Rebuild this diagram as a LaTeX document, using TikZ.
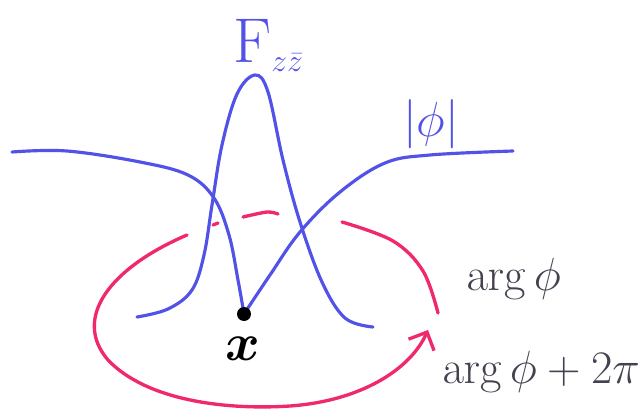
\RequirePackage{fix-cm}
\documentclass[tikz,border=0pt]{standalone}
\usepackage{amsmath, amssymb}
\usepackage{bm}
\usepackage{tikz}
\usetikzlibrary{arrows.meta,calc,positioning}
\definecolor{penblue}{RGB}{82,82,232}
\definecolor{penred}{RGB}{240,40,110}
\definecolor{pengray}{RGB}{70,64,80}

\begin{document}
\begin{tikzpicture}[x=0.02cm,y=-0.02cm,
    bluepen/.style={draw=penblue, line width=1.8pt, line cap=round, line join=round},
    redpen/.style={draw=penred, line width=1.9pt, line cap=round},
    biglabel/.style={font=\fontsize{36}{40}\selectfont},
    arglabel/.style={text=pengray, font=\fontsize{26.5}{28}\selectfont, inner sep=0pt}]
        \useasboundingbox (0,0) rectangle (643,409);
        \coordinate (core) at (244,314);
        \coordinate (start) at (187,235);
        \coordinate (left) at (108,360);
        \coordinate (bottom) at (290,406);
        \coordinate (tip) at (428,330);
        %Field strength
        \draw[bluepen] plot[smooth, tension=0.6] coordinates {(137,317) (168,309) (192,290) (204,255) (212,205)
            (222,145) (237,94) (255,75) (268,92) (283,160) (300,222) (322,282) (345,318) (373,327)};
        %Higgs modulus
        \draw[bluepen] plot[smooth, tension=0.6] coordinates {(12,152) (67,151) (140,162) (188,175) (214,198)
            (229,235) (238,280) (core)};
        \draw[bluepen] plot[smooth, tension=0.6] coordinates {(core) (270,275) (300,232) (340,192)
            (385,163) (430,155) (513,151)};
        %Phase winding
        \draw[redpen] plot[smooth, tension=0.6] coordinates {(342,222) (393,241) (423,271) (438,313)};
        \draw[redpen] plot[smooth] coordinates {(243,217) (267,212) (278,214)};
        \draw[redpen] (213,225) -- (218,223);
        \draw[redpen, -{Straight Barb[length=2.8mm, width=5.6mm, line width=1.9pt]}]
            (start) .. controls (110,268) and (72,318) .. (left)
            .. controls (148,402) and (230,410) .. (bottom)
            .. controls (360,401) and (410,370) .. (tip);
        %Core
        \fill (core) circle (7);
        \node (point) at (243,349) {\fontsize{30}{32}\selectfont$\bm{x}$};
        %Labels
        \node[biglabel, text=penblue, anchor=base west, inner sep=0pt] (fzz) at (233,62) {$\mathrm{F}_{\scriptscriptstyle z\bar z}$};
        \node[text=penblue, font=\fontsize{28}{30}\selectfont] (modphi) at (431,124) {$|\phi|$};
        \node[arglabel, anchor=base west] (arg) at (466,290) {$\arg\phi$};
        \node[arglabel, anchor=base west] (argtwo) at (442,383) {$\arg\phi+2\pi$};
      \end{tikzpicture}
\end{document}
